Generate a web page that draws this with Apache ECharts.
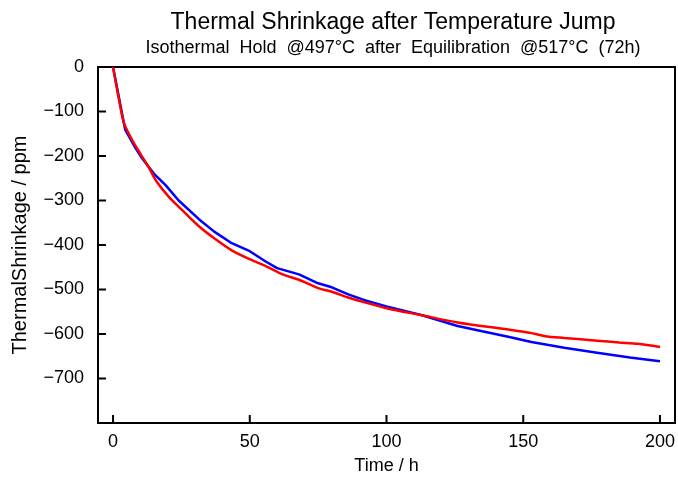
<!DOCTYPE html>
<html>
<head>
<meta charset="utf-8">
<script src="https://cdn.jsdelivr.net/npm/echarts@6/dist/echarts.min.js"></script>
<style>html,body{margin:0;padding:0;background:#fff}#c{width:678px;height:479px}</style>
</head>
<body>
<div id="c"></div>
<script>
const titleText = 'Thermal Shrinkage after Temperature Jump';
const subtitleText = 'Isothermal  Hold  @497°C  after  Equilibration  @517°C  (72h)';
const xAxisName = 'Time / h';
const yAxisName = 'ThermalShrinkage / ppm';
const xTicks = [0, 50, 100, 150, 200];
const yTicks = [0, -100, -200, -300, -400, -500, -600, -700];

const blueTime = [0, 4.4, 8, 10.6, 15, 19.3, 24, 31.4, 37, 43.4, 50, 55.8, 60, 68, 75, 80, 86, 92, 100, 113, 126, 135, 144.5, 153, 165, 177, 189, 200];
const blueVals = [0, -140, -180, -205, -240, -266, -300, -342, -370, -396, -414, -437, -452, -466, -486, -495, -511, -524, -538, -558, -582, -594, -606, -618, -631, -642, -653, -661];

const redTime = [0, 2.2, 4, 7, 10, 13, 16, 20.4, 25, 31.4, 37, 43.4, 50, 56, 62, 68, 75, 80, 86, 92, 100, 113, 126, 144.5, 153, 158, 165, 177, 185, 192, 200];
const redVals = [0, -74, -126, -164, -195, -225, -258, -292, -320, -358, -385, -412, -432, -448, -466, -478, -497, -505, -518, -529, -542, -558, -574, -590, -598, -605, -609, -615, -619, -622, -629];

const zip = (a, b) => a.map((v, i) => [v, b[i]]);
const FONT = 'Liberation Sans';
const XMIN = -5.5, XMAX = 205.5, YMIN = -800, YMAX = 0;
const TICK_LEN = 8;

const chart = echarts.init(document.getElementById('c'));
chart.setOption({
  animation: false,
  backgroundColor: '#fff',
  title: [
    {text: titleText, left: 388, textAlign: 'center', top: 6,
     textStyle: {fontFamily: FONT, fontSize: 23, fontWeight: 'normal', color: '#000'}},
    {text: subtitleText, left: 388, textAlign: 'center', top: 34,
     textStyle: {fontFamily: FONT, fontSize: 18, fontWeight: 'normal', color: '#000'}}
  ],
  grid: {left: 98, right: 3, top: 67, bottom: 56, containLabel: false, outerBoundsMode: 'none'},
  xAxis: [{
    type: 'value', min: XMIN, max: XMAX, position: 'bottom',
    name: xAxisName, nameLocation: 'middle', nameGap: 34,
    nameTextStyle: {fontFamily: FONT, fontSize: 18, color: '#000'},
    axisLine: {show: true, onZero: false, lineStyle: {color: '#000', width: 2}},
    axisTick: {show: false},
    axisLabel: {show: true, fontFamily: FONT, fontSize: 18, color: '#000', margin: 10, customValues: xTicks},
    splitLine: {show: false}
  }, {
    type: 'value', min: XMIN, max: XMAX, position: 'top',
    axisLine: {show: true, onZero: false, lineStyle: {color: '#000', width: 2}},
    axisTick: {show: false}, axisLabel: {show: false}, splitLine: {show: false}
  }],
  yAxis: [{
    type: 'value', min: YMIN, max: YMAX, interval: 100, position: 'left',
    name: yAxisName, nameLocation: 'middle', nameGap: 68,
    nameTextStyle: {fontFamily: FONT, fontSize: 20, color: '#000'},
    axisLine: {show: true, onZero: false, lineStyle: {color: '#000', width: 2}},
    axisTick: {show: false},
    axisLabel: {fontFamily: FONT, fontSize: 18, color: '#000', margin: 14,
      formatter: v => yTicks.indexOf(v) < 0 ? '' : (v < 0 ? '\u2212' + Math.abs(v) : String(v))},
    splitLine: {show: false}
  }, {
    type: 'value', min: YMIN, max: YMAX, position: 'right',
    axisLine: {show: true, onZero: false, lineStyle: {color: '#000', width: 2}},
    axisTick: {show: false}, axisLabel: {show: false}, splitLine: {show: false}
  }],
  series: [
    {type: 'line', data: zip(blueTime, blueVals), showSymbol: false, symbol: 'none',
     lineStyle: {color: '#0000ff', width: 2.5}, z: 2},
    {type: 'line', data: zip(redTime, redVals), showSymbol: false, symbol: 'none', smooth: 0.3,
     lineStyle: {color: '#ff0000', width: 2.5}, z: 3}
  ]
});

// Tick marks placed through the library's own scale conversion
const tickGraphics = [];
xTicks.forEach(v => {
  const p = chart.convertToPixel({gridIndex: 0}, [v, YMIN]);
  tickGraphics.push({type: 'line', z: 100, silent: true,
    shape: {x1: p[0], y1: p[1], x2: p[0], y2: p[1] - TICK_LEN},
    style: {stroke: '#000', lineWidth: 2}});
});
yTicks.forEach(v => {
  const p = chart.convertToPixel({gridIndex: 0}, [XMIN, v]);
  tickGraphics.push({type: 'line', z: 100, silent: true,
    shape: {x1: p[0], y1: p[1], x2: p[0] + TICK_LEN, y2: p[1]},
    style: {stroke: '#000', lineWidth: 2}});
});
chart.setOption({graphic: tickGraphics});
</script>
</body>
</html>
